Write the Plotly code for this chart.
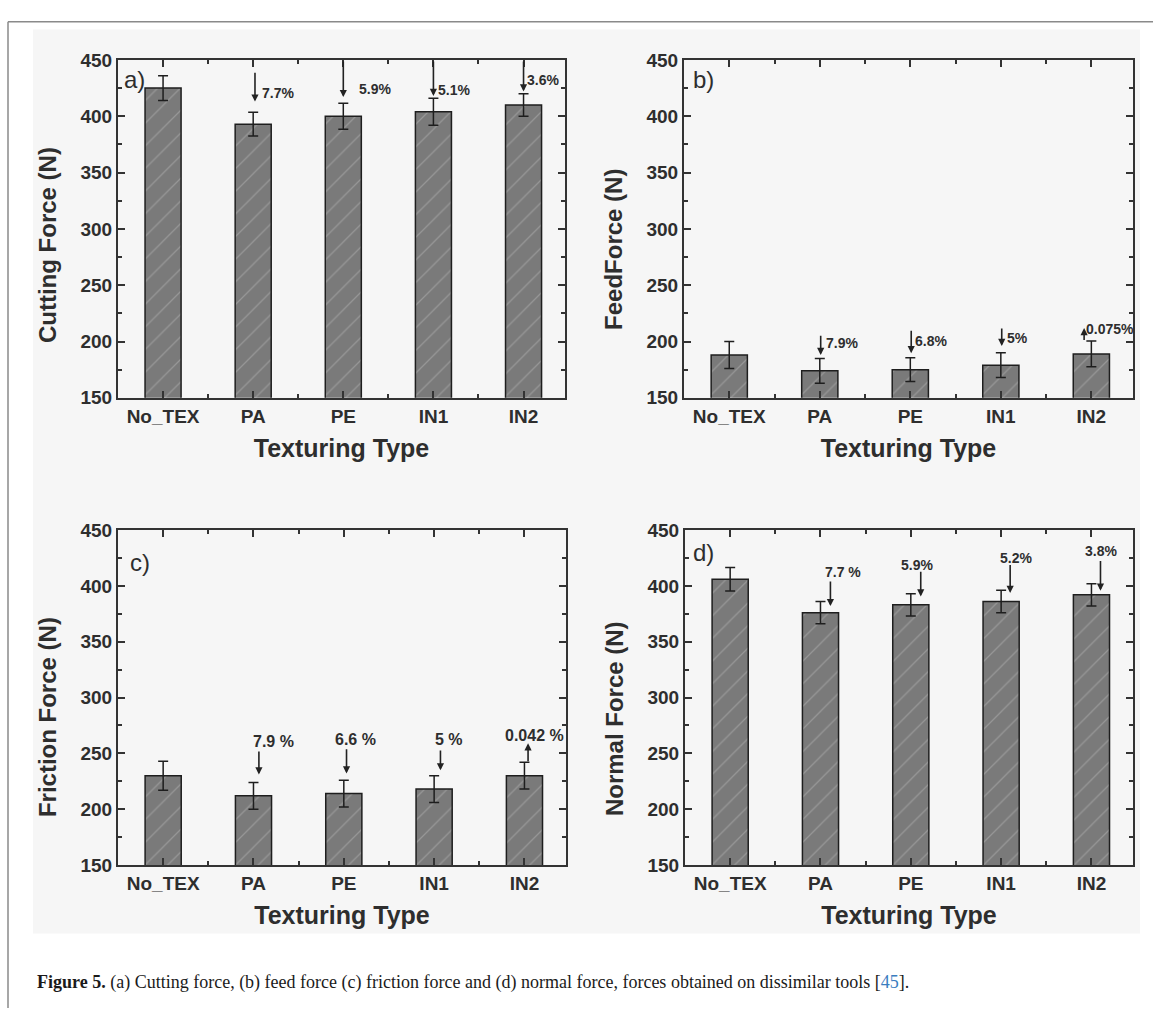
import plotly.graph_objects as go

W, H = 1153, 1019

categories = ["No_TEX", "PA", "PE", "IN1", "IN2"]
x_pos = [0, 1, 2, 3, 4]

cutting = [425, 393, 400, 404, 410]
cutting_err = [11, 10.5, 11.5, 12, 10]
feed = [188, 174, 175, 179, 189]
feed_err = [12, 11, 10.5, 11, 11.5]
friction = [230, 212, 214, 218, 230]
friction_err = [13, 12, 12, 12, 12]
normal = [406, 376, 383, 386, 392]
normal_err = [10.5, 10, 10, 10, 10]

# percentage reduction labels and arrows
a_pct = ["7.7%", "5.9%", "5.1%", "3.6%"]
a_pct_x = [1.28, 2.35, 3.23, 4.22]
a_pct_y = [421, 424.6, 423, 432.6]
a_arr_x = [1.02, 2.0, 3.0, 4.0]
a_arr_tail = [440, 450, 450, 450]
a_arr_head = [413, 417, 418, 422]

b_pct = ["7.9%", "6.8%", "5%", "0.075%"]
b_pct_x = [1.25, 2.23, 3.18, 4.21]
b_pct_y = [199, 200.7, 202.7, 211]
b_arr_x = [1.01, 2.01, 3.01, 3.92]
b_arr_tail = [206.5, 211, 213, 200]
b_arr_head = [188, 189.6, 196, 212]

c_pct = ["7.9 %", "6.6 %", "5 %", "0.042 %"]
c_pct_x = [1.22, 2.13, 3.16, 4.11]
c_pct_y = [260.5, 262, 262, 265.8]
c_arr_x = [1.06, 2.03, 3.07, 4.04]
c_arr_tail = [253, 255, 254, 241.5]
c_arr_head = [231, 232, 234.8, 259]

d_pct = ["7.7 %", "5.9%", "5.2%", "3.8%"]
d_pct_x = [1.25, 2.07, 3.17, 4.11]
d_pct_y = [412.6, 419, 424.8, 431.6]
d_arr_x = [1.11, 2.11, 3.1, 4.1]
d_arr_tail = [405.3, 414, 420, 423.7]
d_arr_head = [381.9, 390.6, 393.6, 395.6]

panel_letters = ["a)", "b)", "c)", "d)"]
panel_letter_x = [-0.32, -0.28, -0.26, -0.30]
panel_letter_y = [432.6, 432.6, 421, 430]

y_titles = ["Cutting Force (N)", "FeedForce (N)", "Friction Force (N)", "Normal Force (N)"]
x_title = "Texturing Type"
caption_bold = "Figure 5."
caption_rest = " (a) Cutting force, (b) feed force (c) friction force and (d) normal force, forces obtained on dissimilar tools ["
caption_ref = "45"

# layout in pixels -> paper
def px(xp):
    return xp / W

def py(yp):
    return 1 - yp / H

domains = [
    ((118, 565), (51, 396)),
    ((684, 1133), (51, 396)),
    ((118, 566), (531, 873)),
    ((685, 1133), (531, 873)),
]
# y-title centres (pixels)
ytitle_pos = [(47, 240), (614, 245), (47, 722), (614, 724)]

values = [cutting, feed, friction, normal]
errs = [cutting_err, feed_err, friction_err, normal_err]
pcts = [(a_pct, a_pct_x, a_pct_y, 14), (b_pct, b_pct_x, b_pct_y, 14),
        (c_pct, c_pct_x, c_pct_y, 16), (d_pct, d_pct_x, d_pct_y, 14)]
arrs = [(a_arr_x, a_arr_tail, a_arr_head), (b_arr_x, b_arr_tail, b_arr_head),
        (c_arr_x, c_arr_tail, c_arr_head), (d_arr_x, d_arr_tail, d_arr_head)]

FONT = "Liberation Sans, Arial, sans-serif"
TXT = "#2e2e2e"

fig = go.Figure()
annotations = []
layout_axes = {}

for i in range(4):
    sfx = "" if i == 0 else str(i + 1)
    xa, ya = "x" + sfx, "y" + sfx
    fig.add_trace(go.Bar(
        x=x_pos, y=values[i], width=0.4,
        xaxis=xa, yaxis=ya,
        marker=dict(color="#7a7a7a",
                    line=dict(color="#1e1e1e", width=1.5),
                    pattern=dict(shape="/", fgcolor="#b4b4b4", size=16,
                                 solidity=0.08, fillmode="overlay")),
        error_y=dict(type="data", array=errs[i], color="#1e1e1e",
                     thickness=1.5, width=5),
        showlegend=False,
    ))
    (x0, x1), (y0, y1) = domains[i]
    axis_common = dict(showline=True, linewidth=2, linecolor="#333333",
                       mirror="ticks", ticks="inside", ticklen=7, tickwidth=1.5,
                       tickcolor="#333333", showgrid=False, zeroline=False,
                       tickfont=dict(family=FONT, size=19, color=TXT, weight="bold"))
    layout_axes["xaxis" + sfx] = dict(
        domain=[px(x0), px(x1)], anchor=ya, range=[-0.5, 4.46],
        tickmode="array", tickvals=x_pos, ticktext=categories,
        minor=dict(tickvals=[0.5, 1.5, 2.5, 3.5], ticklen=4, tickwidth=1.5,
                   ticks="inside", tickcolor="#333333"),
        title=dict(text=x_title, standoff=14,
                   font=dict(family=FONT, size=25, color=TXT, weight="bold")),
        **axis_common)
    layout_axes["yaxis" + sfx] = dict(
        domain=[py(y1), py(y0)], anchor=xa, range=[150, 450],
        tickmode="linear", tick0=150, dtick=50,
        minor=dict(dtick=25, tick0=150, ticklen=4, tickwidth=1.5,
                   ticks="inside", tickcolor="#333333"),
        **axis_common)

    # y-axis title
    tx_, ty_ = ytitle_pos[i]
    annotations.append(dict(xref="paper", yref="paper", x=px(tx_), y=py(ty_),
                            text=y_titles[i], showarrow=False, textangle=-90,
                            xanchor="center", yanchor="middle",
                            font=dict(family=FONT, size=24, color=TXT, weight="bold")))
    # panel letter
    annotations.append(dict(xref=xa, yref=ya, x=panel_letter_x[i], y=panel_letter_y[i],
                            text=panel_letters[i], showarrow=False,
                            font=dict(family=FONT, size=24, color=TXT)))
    # percentage labels
    texts, tx, ty, fs = pcts[i]
    for t, xx, yy in zip(texts, tx, ty):
        annotations.append(dict(xref=xa, yref=ya, x=xx, y=yy, text=t, showarrow=False,
                                font=dict(family=FONT, size=fs, color=TXT, weight="bold")))
    # arrows
    ax_, tails, heads = arrs[i]
    for xx, yt, yh in zip(ax_, tails, heads):
        annotations.append(dict(xref=xa, yref=ya, axref=xa, ayref=ya,
                                x=xx, y=yh, ax=xx, ay=yt, text="", showarrow=True,
                                arrowhead=2, arrowsize=0.9, arrowwidth=1.6,
                                arrowcolor="#222222", standoff=0, startstandoff=0))

# caption
annotations.append(dict(xref="paper", yref="paper", x=px(35), y=py(993),
                        xanchor="left", yanchor="middle", showarrow=False,
                        text="<b>" + caption_bold + "</b>" + caption_rest +
                             "<span style='color:#3a7dbf'>" + caption_ref + "</span>].",
                        font=dict(family="Liberation Serif, Times New Roman, serif",
                                  size=18, color="#1a1a1a")))

shapes = [
    dict(type="rect", xref="paper", yref="paper", x0=px(33), x1=px(1140),
         y0=py(943), y1=py(20), fillcolor="#f6f6f6", line=dict(width=0), layer="below"),
    dict(type="line", xref="paper", yref="paper", x0=px(8), x1=1, y0=py(12), y1=py(12),
         line=dict(color="#8a8a8a", width=1.5)),
    dict(type="line", xref="paper", yref="paper", x0=px(8), x1=px(8), y0=0, y1=py(12),
         line=dict(color="#8a8a8a", width=1.5)),
]

fig.update_layout(
    width=W, height=H, margin=dict(l=0, r=0, t=0, b=0),
    paper_bgcolor="white", plot_bgcolor="white",
    annotations=annotations, shapes=shapes, bargap=0.6,
    **layout_axes,
)

fig.write_html("out.html")
